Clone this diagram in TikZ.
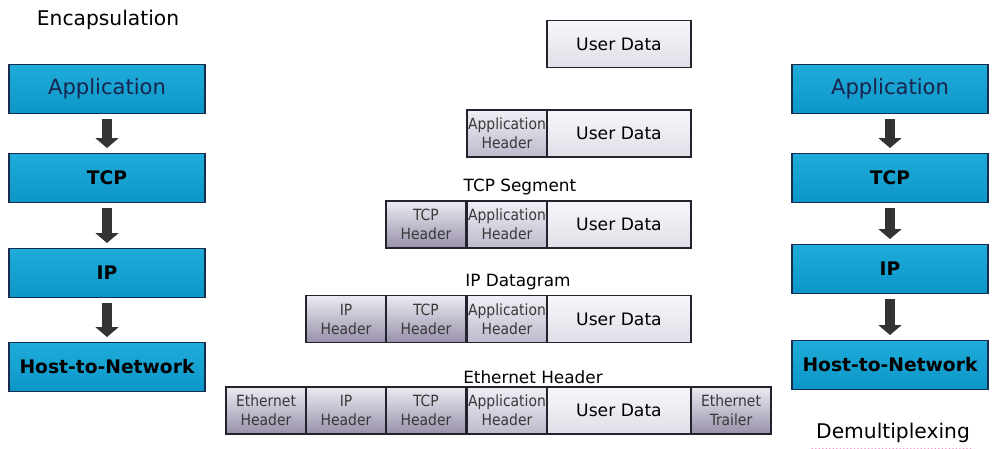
\documentclass[tikz,border=0pt]{standalone}
\usepackage{fontspec}
\setmainfont{DejaVu Sans}
\newfontfamily\condfont{DejaVu Sans Condensed}
\usepackage{xcolor}
\definecolor{layertop}{RGB}{32,172,218}
\definecolor{layerbot}{RGB}{12,150,200}
\definecolor{layeredge}{RGB}{25,45,80}
\definecolor{hdrtop}{RGB}{236,234,242}
\definecolor{hdrbot}{RGB}{152,144,170}
\definecolor{apptop}{RGB}{240,238,245}
\definecolor{appbot}{RGB}{190,185,205}
\definecolor{datatop}{RGB}{248,246,250}
\definecolor{databot}{RGB}{226,222,232}
\definecolor{celledge}{RGB}{35,35,45}
\definecolor{navytext}{RGB}{25,35,75}
\definecolor{squiggle}{RGB}{225,140,200}
\usetikzlibrary{arrows.meta,positioning,decorations.pathmorphing}

\begin{document}
\begin{tikzpicture}[x=0.025cm,y=-0.025cm,
  layerbox/.style={draw=layeredge,line width=0.8pt,top color=layertop,bottom color=layerbot,minimum width=4.9cm,minimum height=1.225cm,inner sep=0pt},
  hdrcell/.style={draw=celledge,line width=0.8pt,top color=hdrtop,bottom color=hdrbot,minimum width=2cm,minimum height=1.175cm,inner sep=0pt,align=center,font=\condfont\fontsize{11}{13.5}\selectfont,text=black!78},
  appcell/.style={hdrcell,top color=apptop,bottom color=appbot},
  datacell/.style={draw=celledge,line width=0.8pt,top color=datatop,bottom color=databot,minimum width=3.6cm,minimum height=1.175cm,inner sep=0pt,font=\fontsize{12.2}{14}\selectfont},
  rowlabel/.style={font=\fontsize{12}{14}\selectfont},
  bigarrow/.style={draw=black!80,line width=7pt,-{Triangle[length=7pt,width=16pt]},shorten <=3.5pt,shorten >=3.5pt}]
  \useasboundingbox (0,0) rectangle (992,448);
  % Titles
  \node[font=\fontsize{14.4}{16}\selectfont] (encap) at (108,20) {Encapsulation};
  \node[font=\fontsize{14.4}{16}\selectfont] (demux) at (893,433) {Demultiplexing};
  \draw[squiggle,line width=0.4pt,decorate,decoration={snake,amplitude=0.5pt,segment length=2.5pt}]
    ([yshift=-1pt]demux.south west) -- ([yshift=-1pt]demux.south east);
  % Sender stack
  \node[layerbox,text=navytext,font=\fontsize{15}{17}\selectfont] (lapp) at (107,89) {Application};
  \node[layerbox,font=\bfseries\fontsize{13.3}{15}\selectfont] (ltcp) at (107,178) {TCP};
  \node[layerbox,font=\bfseries\fontsize{13.3}{15}\selectfont] (lip) at (107,273) {IP};
  \node[layerbox,font=\bfseries\fontsize{13.3}{15}\selectfont] (lhost) at (107,367) {Host-to-Network};
  \draw[bigarrow] (lapp) -- (ltcp);
  \draw[bigarrow] (ltcp) -- (lip);
  \draw[bigarrow] (lip) -- (lhost);
  % Receiver stack
  \node[layerbox,text=navytext,font=\fontsize{15}{17}\selectfont] (rapp) at (890,89) {Application};
  \node[layerbox,font=\bfseries\fontsize{13.3}{15}\selectfont] (rtcp) at (890,178) {TCP};
  \node[layerbox,font=\bfseries\fontsize{13.3}{15}\selectfont] (rip) at (890,269) {IP};
  \node[layerbox,font=\bfseries\fontsize{13.3}{15}\selectfont] (rhost) at (890,365) {Host-to-Network};
  \draw[bigarrow] (rapp) -- (rtcp);
  \draw[bigarrow] (rtcp) -- (rip);
  \draw[bigarrow] (rip) -- (rhost);
  % Row 1: data only
  \node[datacell] (data1) at (619,44) {User Data};
  % Row 2: application header
  \node[appcell] (app2) at (507,133.5) {Application\\Header};
  \node[datacell] (data2) at (619,133.5) {User Data};
  % Row 3: TCP segment
  \node[rowlabel] (seglbl) at (520,187) {TCP Segment};
  \node[hdrcell] (tcp3) at (426,224.5) {TCP\\Header};
  \node[appcell] (app3) at (507,224.5) {Application\\Header};
  \node[datacell] (data3) at (619,224.5) {User Data};
  % Row 4: IP datagram
  \node[rowlabel] (dgmlbl) at (518,282) {IP Datagram};
  \node[hdrcell] (ip4) at (346,319) {IP\\Header};
  \node[hdrcell] (tcp4) at (426,319) {TCP\\Header};
  \node[appcell] (app4) at (507,319) {Application\\Header};
  \node[datacell] (data4) at (619,319) {User Data};
  % Row 5: Ethernet frame
  \node[rowlabel] (ethlbl) at (533,377) {Ethernet Header};
  \node[hdrcell] (eth5) at (266,410.5) {Ethernet\\Header};
  \node[hdrcell] (ip5) at (346,410.5) {IP\\Header};
  \node[hdrcell] (tcp5) at (426,410.5) {TCP\\Header};
  \node[appcell] (app5) at (507,410.5) {Application\\Header};
  \node[datacell] (data5) at (619,410.5) {User Data};
  \node[hdrcell] (trl5) at (731,410.5) {Ethernet\\Trailer};
\end{tikzpicture}
\end{document}
